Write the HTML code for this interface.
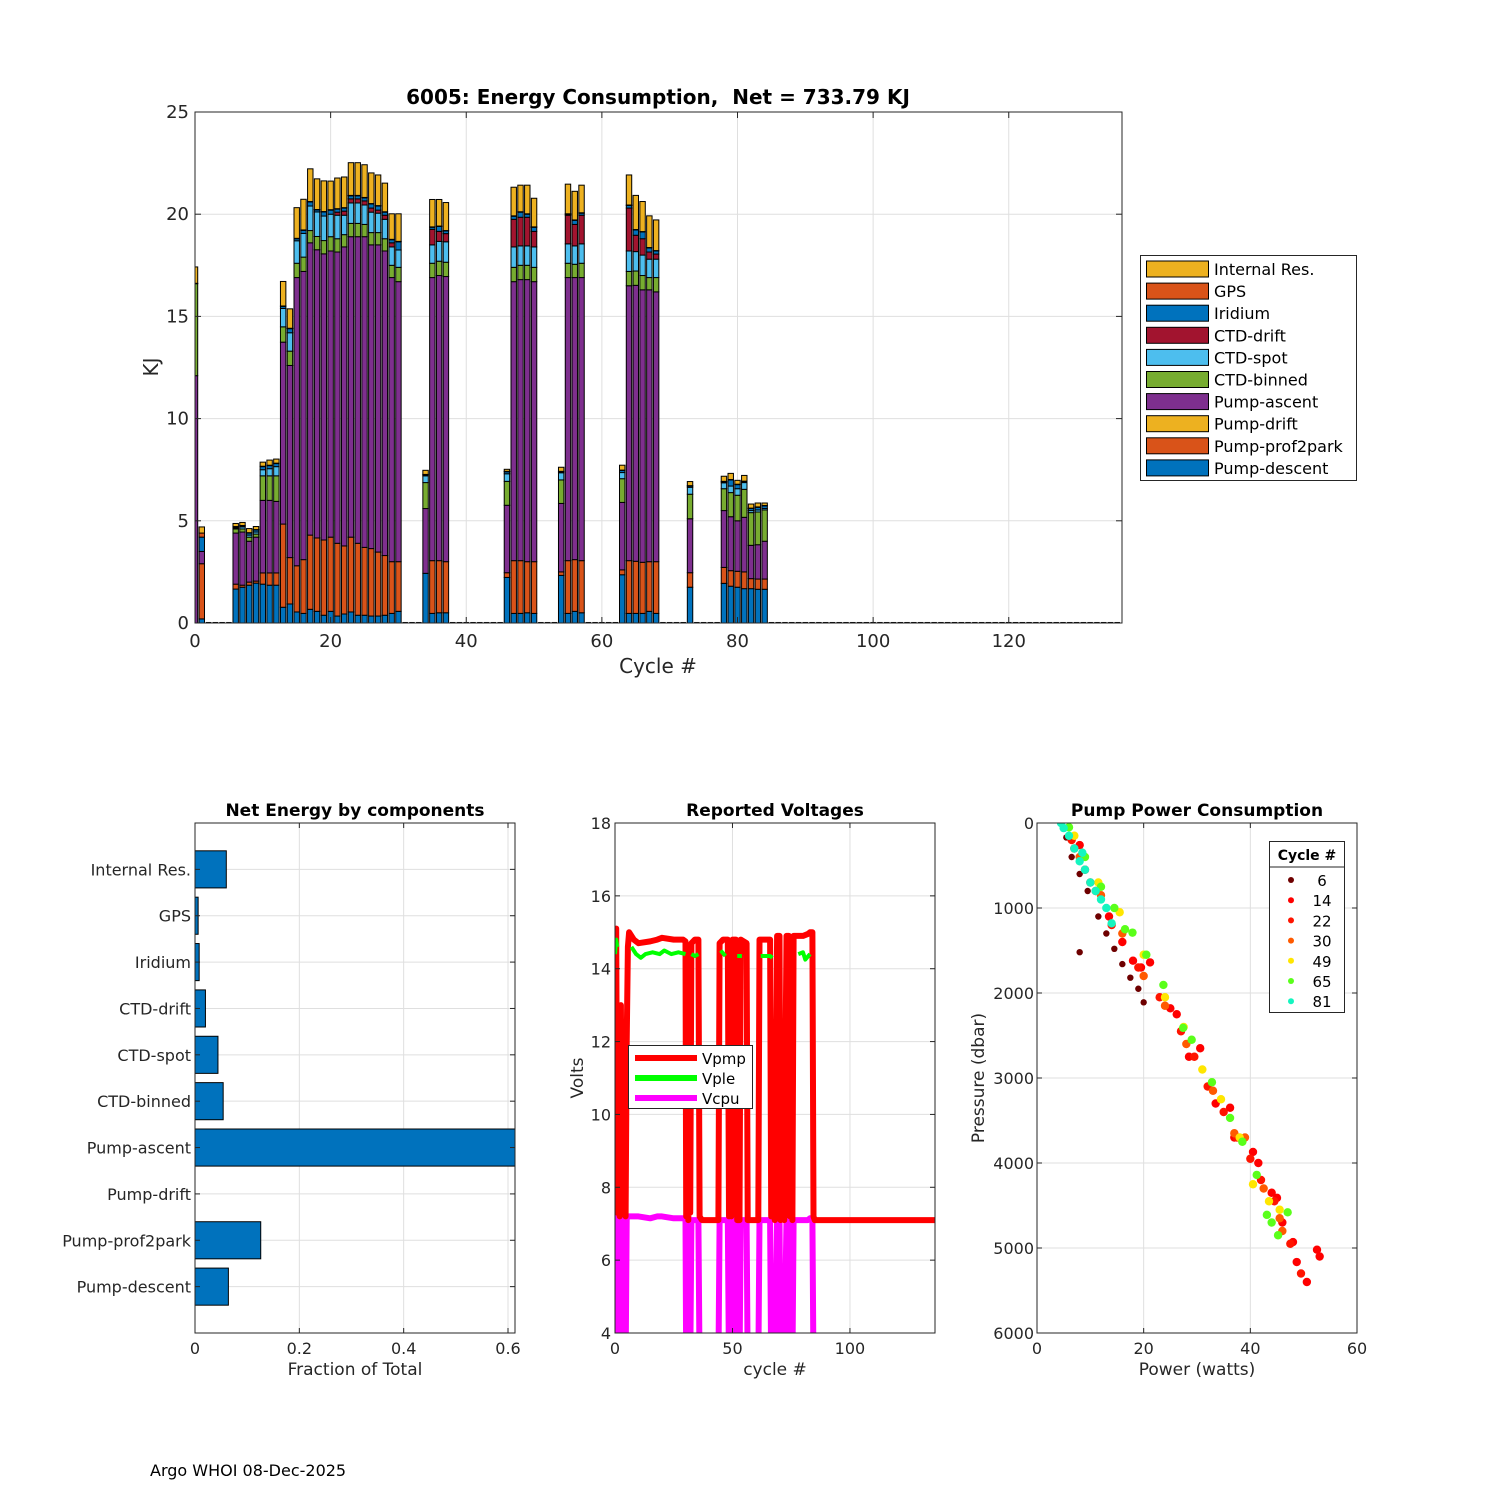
<!DOCTYPE html>
<html><head><meta charset="utf-8"><style>
html,body{margin:0;padding:0;background:#fff}
svg{display:block;font-family:"DejaVu Sans","Liberation Sans",sans-serif}
text{white-space:pre}
</style></head><body>
<svg id="s" width="1500" height="1500" viewBox="0 0 1500 1500" xmlns="http://www.w3.org/2000/svg">
<rect width="1500" height="1500" fill="#fff"/>
<defs>
<clipPath id="cpTop"><rect x="195" y="112" width="927" height="511"/></clipPath>
<clipPath id="cpBar"><rect x="195" y="823" width="320" height="510"/></clipPath>
<clipPath id="cpV"><rect x="615" y="823" width="320" height="510"/></clipPath>
<clipPath id="cpP"><rect x="1037" y="823" width="320" height="510"/></clipPath>
</defs>
<g id="top"></g>
<g id="frac"></g>
<g id="volt"></g>
<g id="pump"></g>
<text x="150" y="1476" font-size="16" fill="#000">Argo WHOI 08-Dec-2025</text>
</svg>
<script>
// ===== Top chart data =====
const cycles=[0,1,6,7,8,9,10,11,12,13,14,15,16,17,18,19,20,21,22,23,24,25,26,27,28,29,30,34,35,36,37,46,47,48,49,50,54,55,56,57,63,64,65,66,67,68,73,78,79,80,81,82,83,84];
const pumpDescent=[0,0.2,1.66,1.75,1.85,1.95,1.9,1.85,1.85,0.77,0.93,0.54,0.47,0.67,0.57,0.38,0.57,0.34,0.44,0.54,0.38,0.38,0.34,0.34,0.38,0.47,0.57,2.43,0.47,0.5,0.5,2.23,0.47,0.47,0.5,0.47,2.33,0.47,0.57,0.5,2.36,0.47,0.47,0.47,0.57,0.47,1.75,1.94,1.8,1.75,1.68,1.68,1.65,1.65];
const pumpProf2park=[0,2.7,0.24,0.1,0.15,0.1,0.55,0.6,0.6,4.07,2.27,2.26,2.63,3.63,3.59,3.68,3.63,3.56,3.33,3.66,3.52,3.32,3.3,3.13,2.92,2.53,2.43,0,2.58,2.55,2.5,0.23,2.58,2.58,2.5,2.53,0.17,2.58,2.53,2.55,0.24,2.58,2.55,2.5,2.43,2.53,0.71,0.78,0.76,0.78,0.82,0.49,0.5,0.5];
const pumpDrift=cycles.map(()=>0);
const pumpAscent=[12.1,0.6,2.5,2.6,2.0,2.15,3.55,3.55,3.5,8.9,9.4,14.1,14.1,14.3,14.1,14.0,14.0,14.25,14.63,14.7,15.0,15.2,14.86,15.03,14.9,13.9,13.7,3.17,13.85,13.95,13.95,3.3,13.65,13.75,13.8,13.7,3.35,13.85,13.8,13.85,3.3,13.45,13.5,13.33,13.3,13.2,2.64,2.78,2.64,2.47,2.67,1.63,1.68,1.85];
const ctdBinned=[4.5,0,0.2,0.15,0.2,0.15,1.2,1.2,1.25,0.75,0.7,0.7,0.7,0.6,0.65,0.65,0.7,0.65,0.6,0.65,0.65,0.6,0.6,0.6,0.6,0.6,0.7,1.27,0.7,0.7,0.7,1.17,0.7,0.7,0.7,0.7,1.15,0.7,0.65,0.7,1.16,0.7,0.7,0.7,0.6,0.7,1.2,1.07,1.18,1.25,1.37,1.6,1.6,1.53];
const ctdSpot=[0,0,0.05,0.1,0.1,0.1,0.3,0.35,0.45,0.9,0.9,1.1,1.16,1.2,1.2,1.2,1.1,1.15,0.95,1.0,1.0,0.95,1.0,0.95,0.95,0.9,0.85,0.33,0.9,0.97,1.0,0.37,1.0,0.95,0.95,1.0,0.35,0.95,0.9,0.95,0.3,1.0,0.95,1.0,0.9,0.9,0.34,0.29,0.32,0.32,0.33,0.1,0.1,0.07];
const ctdDrift=[0,0,0,0,0,0,0,0,0,0,0,0,0,0,0,0,0,0.15,0.2,0.2,0.2,0.2,0.2,0.15,0.2,0.2,0,0,0.76,0.49,0.4,0,1.35,1.4,1.4,0.76,0,1.4,1.05,1.4,0,2.1,0.8,0.8,0.35,0.25,0,0,0,0,0,0,0,0];
const iridium=[0,0.7,0.05,0.05,0.1,0.1,0.15,0.15,0.15,0.1,0.2,0.1,0.15,0.2,0.1,0.2,0.2,0.15,0.15,0.15,0.15,0.15,0.2,0.2,0.15,0.15,0.4,0.05,0.1,0.24,0.13,0.1,0.15,0.25,0.15,0.2,0.05,0.05,0.2,0.1,0.1,0.13,0.26,0.33,0.2,0.15,0.06,0.05,0.3,0.2,0.05,0.1,0.13,0.13];
const gps=cycles.map((c)=>c===1?0.2:0.02);
const internalRes=[0.8,0.3,0.15,0.15,0.2,0.15,0.2,0.25,0.2,1.2,0.95,1.5,1.5,1.6,1.5,1.5,1.4,1.5,1.5,1.6,1.6,1.6,1.5,1.5,1.4,1.25,1.35,0.2,1.34,1.3,1.37,0.1,1.4,1.3,1.4,1.4,0.2,1.45,1.4,1.35,0.24,1.47,1.67,1.47,1.55,1.5,0.2,0.25,0.3,0.19,0.28,0.2,0.19,0.12];
const compNames=["Pump-descent","Pump-prof2park","Pump-drift","Pump-ascent","CTD-binned","CTD-spot","CTD-drift","Iridium","GPS","Internal Res."];
const compColors=["#0072BD","#D95319","#EDB120","#7E2F8E","#77AC30","#4DBEEE","#A2142F","#0072BD","#D95319","#EDB120"];
const topXTicks=[0,20,40,60,80,100,120];
const topYTicks=[0,5,10,15,20,25];
const maxCycle=136;
// ===== Fraction chart data =====
const fracCats=["Pump-descent","Pump-prof2park","Pump-drift","Pump-ascent","CTD-binned","CTD-spot","CTD-drift","Iridium","GPS","Internal Res."];
const fracVals=[0.064,0.126,0,0.62,0.054,0.044,0.02,0.008,0.006,0.06];
const fracXTicks=[0,0.2,0.4,0.6];
// ===== Voltage data =====
const vCycle=[0,0.5,1,1.5,2,2.5,3,4,4.5,5,5.5,6,8,10,15,18,20,25,29,30,30.3,30.8,31.2,31.6,32,32.5,34,35.5,36,37,42,44,44.5,46,48,48.5,49,49.5,50,51.5,52,53,53.5,56,56.5,61,61.5,66,66.5,67.5,68,69,70,70.5,71.5,72,73,74,74.5,75,75.5,76,80,82,83,84,84.5,85,136];
const vpmp=[14.9,15.1,7.3,9,7.2,13,7.3,10.5,7.2,12,14.6,15.0,14.8,14.7,14.75,14.8,14.85,14.8,14.8,14.75,7.2,13,7.1,12,7.3,14.7,14.8,14.8,7.2,7.1,7.1,7.1,14.7,14.8,14.8,7.2,12.5,7.2,14.8,14.8,7.1,7.1,14.8,14.7,7.1,7.1,14.8,14.8,7.2,11,7.1,14.9,14.9,7.1,10.5,7.1,14.9,14.9,7.2,12,7.1,14.9,14.9,14.95,15,15,7.2,7.1,7.1];
const vcpu=[7.2,7.2,3,3,3,7.2,3,3,3,7.2,7.2,7.2,7.2,7.2,7.15,7.2,7.2,7.15,7.15,7.15,3,7.1,3,7.1,3,7.1,7.1,7.1,3,3,3,3,7.1,7.1,7.1,3,7.1,3,7.1,7.1,3,3,7.1,7.1,3,3,7.1,7.1,3,3,3,7.1,7.1,3,3,3,7.1,7.1,3,3,3,7.1,7.1,7.1,7.15,7.15,3,3,3];
const vpleCycle=[0,0.5,1,null,7,9,11,13,16,19,21,24,27,30,null,32.5,34,35.5,null,45,47,null,52,54,null,62,66,67,null,78,80,81,83];
const vple=[14.4,14.8,14.6,null,14.6,14.4,14.3,14.4,14.45,14.4,14.5,14.4,14.45,14.4,null,14.4,14.35,14.4,null,14.5,14.35,null,14.35,14.35,null,14.35,14.35,14.3,null,14.4,14.45,14.25,14.4];
const vXTicks=[0,50,100];
const vYTicks=[4,6,8,10,12,14,16,18];
// ===== Pump power data =====
const pumpCycles=["6","14","22","30","49","65","81"];
const pumpColors=["#6e0000","#ff0000","#ff1400","#ff5a00","#ffe600","#5aff1a","#14f5c0"];
const pwr6=[5.5,6.5,8,9.5,11.5,13,14.5,16,17.5,19,20,8];
const prs6=[170,400,600,800,1100,1300,1480,1660,1820,1950,2110,1520];
const pwr14=[7,8,9,11,13.5,16,18,19.5,21.2,25,26.2,28.5,30.6,33.5,36.2,37,40.5,41.5,44,45,46,48,48.7,50.6,52.5,53];
const prs14=[300,260,550,800,1100,1400,1620,1700,1640,2180,2250,2750,2650,3300,3350,3700,3870,4000,4350,4410,4700,4930,5165,5400,5020,5100];
const pwr22=[6.5,10,14,19,23,27,29.5,32,35,37.5,40,42,44.5,47.5,49.5];
const prs22=[200,700,1200,1700,2050,2450,2750,3100,3400,3700,3950,4200,4450,4950,5300];
const pwr30=[8,12,16,20,24,28,33,37,39,42.5,45.5,46];
const prs30=[400,850,1300,1800,2150,2600,3150,3650,3700,4300,4650,4800];
const pwr49=[7,11.5,15.5,20,24,27.5,31,34.5,38,40.5,43.5,45.5];
const prs49=[150,700,1050,1550,2050,2400,2900,3250,3700,4250,4450,4550];
const pwr65=[6,9,12,14.5,16.5,17.9,20.5,23.7,27.4,29,32.8,36.2,38.5,41.2,43.1,45.2,47,44];
const prs65=[50,400,750,1000,1250,1290,1550,1905,2410,2550,3050,3470,3750,4140,4610,4850,4580,4700];
const pwr81=[4.5,5,6,7,8,9,10,11,12,13,14,8.5];
const prs81=[0,60,150,300,450,550,700,800,900,1000,1180,350];
const pXTicks=[0,20,40,60];
const pYTicks=[0,1000,2000,3000,4000,5000,6000];

const NS="http://www.w3.org/2000/svg";
function mk(parent,tag,attrs,txt){const e=document.createElementNS(NS,tag);for(const k in attrs)e.setAttribute(k,attrs[k]);if(txt!==undefined)e.textContent=txt;parent.appendChild(e);return e;}
const AX="#262626",GRID="#dfdfdf";
function frame(g,x0,y0,x1,y1){
  const r=mk(g,'rect',{x:x0,y:y0,width:x1-x0,height:y1-y0,fill:'none',stroke:AX,'stroke-width':1});
  
  
}

// ===== TOP =====
(function(){
  const g=document.getElementById('top');
  const X0=195,X1=1122,Y0=112,Y1=623,XMAX=136.7,YMAX=25;
  const xs=c=>X0+c*(X1-X0)/XMAX, ys=v=>Y1-v*(Y1-Y0)/YMAX;
  topXTicks.forEach(t=>{const l=mk(g,'line',{x1:xs(t),x2:xs(t),y1:Y0,y2:Y1,stroke:GRID});});
  topYTicks.forEach(t=>{const l=mk(g,'line',{x1:X0,x2:X1,y1:ys(t),y2:ys(t),stroke:GRID});});
  const bars=mk(g,'g',{'clip-path':'url(#cpTop)'});
  
  
  const comps=[pumpDescent,pumpProf2park,pumpDrift,pumpAscent,ctdBinned,ctdSpot,ctdDrift,iridium,gps,internalRes];
  const bw=0.8*(X1-X0)/XMAX;
  for(let c=0;c<=maxCycle;c++){
    const i=cycles.indexOf(c);
    if(i<0){const r=mk(bars,'rect',{x:xs(c)-bw/2,y:ys(0.05),width:bw,height:ys(0)-ys(0.05),fill:'#000'});continue;}
    let base=0;
    comps.forEach((arr,k)=>{const v=arr[i];if(!v)return;
      const r=mk(bars,'rect',{x:xs(c)-bw/2,y:ys(base+v),width:bw,height:ys(base)-ys(base+v),fill:compColors[k],stroke:'#000','stroke-width':1});
      
      
      base+=v;});
  }
  frame(g,X0,Y0,X1,Y1);
  topXTicks.forEach(t=>{mk(g,'line',{x1:xs(t),x2:xs(t),y1:Y1,y2:Y1-6,stroke:AX});mk(g,'line',{x1:xs(t),x2:xs(t),y1:Y0,y2:Y0+6,stroke:AX});
    const tx=mk(g,'text',{x:xs(t),y:Y1+24,'font-size':18,'text-anchor':'middle',fill:AX},t);});
  topYTicks.forEach(t=>{mk(g,'line',{x1:X0,x2:X0+6,y1:ys(t),y2:ys(t),stroke:AX});mk(g,'line',{x1:X1,x2:X1-6,y1:ys(t),y2:ys(t),stroke:AX});
    const tx=mk(g,'text',{x:X0-6,y:ys(t)+6,'font-size':18,'text-anchor':'end',fill:AX},t);});
  let t=mk(g,'text',{x:658,y:104,'font-size':20,'font-weight':'bold','text-anchor':'middle',fill:'#000'},'6005: Energy Consumption,  Net = 733.79 KJ');
  t=mk(g,'text',{x:658,y:673,'font-size':20,'text-anchor':'middle',fill:AX},'Cycle #');
  t=mk(g,'text',{x:158,y:367,'font-size':20,'text-anchor':'middle',fill:AX,transform:'rotate(-90 158 367)'},'KJ');
  const lg=mk(g,'g',{});
  
  
  mk(lg,'rect',{x:1140.5,y:255.5,width:216,height:225,fill:'#fff',stroke:AX});
  for(let k=9;k>=0;k--){const row=9-k;const y=261+row*22.1;
    const it=mk(lg,'g',{});
    
    
    mk(it,'rect',{x:1146.5,y:y,width:62,height:16,fill:compColors[k],stroke:'#000'});
    mk(it,'text',{x:1214,y:y+14,'font-size':16,fill:'#000'},compNames[k]);}
})();

// ===== FRACTION =====
(function(){
  const g=document.getElementById('frac');
  const X0=195,X1=515,Y0=823,Y1=1333,XMAX=0.6134,YMAX=11;
  const xs=v=>X0+v*(X1-X0)/XMAX, ys=i=>Y1-(i+1)*(Y1-Y0)/YMAX;
  fracXTicks.forEach(t=>{mk(g,'line',{x1:xs(t),x2:xs(t),y1:Y0,y2:Y1,stroke:GRID});});
  fracCats.forEach((c,i)=>{mk(g,'line',{x1:X0,x2:X1,y1:ys(i),y2:ys(i),stroke:GRID});});
  const bg=mk(g,'g',{'clip-path':'url(#cpBar)'});
  const bh=0.8*(Y1-Y0)/YMAX;
  fracCats.forEach((c,i)=>{if(!fracVals[i])return;
    const r=mk(bg,'rect',{x:X0,y:ys(i)-bh/2,width:xs(fracVals[i])-X0,height:bh,fill:'#0072BD',stroke:'#000'});
    
    });
  frame(g,X0,Y0,X1,Y1);
  fracXTicks.forEach(t=>{mk(g,'line',{x1:xs(t),x2:xs(t),y1:Y1,y2:Y1-5,stroke:AX});mk(g,'line',{x1:xs(t),x2:xs(t),y1:Y0,y2:Y0+5,stroke:AX});
    const tx=mk(g,'text',{x:xs(t),y:Y1+21,'font-size':16,'text-anchor':'middle',fill:AX},t);});
  fracCats.forEach((c,i)=>{mk(g,'line',{x1:X0,x2:X0+5,y1:ys(i),y2:ys(i),stroke:AX});mk(g,'line',{x1:X1,x2:X1-5,y1:ys(i),y2:ys(i),stroke:AX});
    const tx=mk(g,'text',{x:X0-4,y:ys(i)+6,'font-size':16,'text-anchor':'end',fill:AX},c);});
  let t=mk(g,'text',{x:355,y:816,'font-size':17,'font-weight':'bold','text-anchor':'middle',fill:'#000'},'Net Energy by components');
  t=mk(g,'text',{x:355,y:1375,'font-size':17,'text-anchor':'middle',fill:AX},'Fraction of Total');
})();

// ===== VOLTAGES =====
(function(){
  const g=document.getElementById('volt');
  const X0=615,X1=935,Y0=823,Y1=1333,XMAX=136.2,YMIN=4,YMAX=18;
  const xs=v=>X0+v*(X1-X0)/XMAX, ys=v=>Y1-(v-YMIN)*(Y1-Y0)/(YMAX-YMIN);
  vXTicks.forEach(t=>mk(g,'line',{x1:xs(t),x2:xs(t),y1:Y0,y2:Y1,stroke:GRID}));
  vYTicks.forEach(t=>mk(g,'line',{x1:X0,x2:X1,y1:ys(t),y2:ys(t),stroke:GRID}));
  const cg=mk(g,'g',{'clip-path':'url(#cpV)'});
  function path(xa,ya){let d='',pen=false;xa.forEach((x,i)=>{if(x===null||ya[i]===null){pen=false;return;}d+=(pen?'L':'M')+xs(x).toFixed(1)+','+ys(ya[i]).toFixed(1);pen=true;});return d;}
  let p=mk(cg,'path',{d:path(vCycle,vcpu),fill:'none',stroke:'#ff00ff','stroke-width':6,'stroke-linejoin':'round'});
  p=mk(cg,'path',{d:path(vCycle,vpmp),fill:'none',stroke:'#ff0000','stroke-width':6,'stroke-linejoin':'round'});
  p=mk(cg,'path',{d:path(vpleCycle,vple),fill:'none',stroke:'#00ff00','stroke-width':4,'stroke-linejoin':'round'});
  frame(g,X0,Y0,X1,Y1);
  vXTicks.forEach(t=>{mk(g,'line',{x1:xs(t),x2:xs(t),y1:Y1,y2:Y1-5,stroke:AX});mk(g,'line',{x1:xs(t),x2:xs(t),y1:Y0,y2:Y0+5,stroke:AX});
    const tx=mk(g,'text',{x:xs(t),y:Y1+21,'font-size':16,'text-anchor':'middle',fill:AX},t);});
  vYTicks.forEach(t=>{mk(g,'line',{x1:X0,x2:X0+5,y1:ys(t),y2:ys(t),stroke:AX});mk(g,'line',{x1:X1,x2:X1-5,y1:ys(t),y2:ys(t),stroke:AX});
    const tx=mk(g,'text',{x:X0-4,y:ys(t)+6,'font-size':16,'text-anchor':'end',fill:AX},t);});
  let t=mk(g,'text',{x:775,y:816,'font-size':17,'font-weight':'bold','text-anchor':'middle',fill:'#000'},'Reported Voltages');
  t=mk(g,'text',{x:775,y:1375,'font-size':17,'text-anchor':'middle',fill:AX},'cycle #');
  t=mk(g,'text',{x:583,y:1078,'font-size':17,'text-anchor':'middle',fill:AX,transform:'rotate(-90 583 1078)'},'Volts');
  const lg=mk(g,'g',{});
  
  
  mk(lg,'rect',{x:628.5,y:1045.5,width:124,height:63,fill:'#fff',stroke:AX});
  [['Vpmp','#ff0000'],['Vple','#00ff00'],['Vcpu','#ff00ff']].forEach((e,i)=>{const y=1058+i*20;
    const it=mk(lg,'g',{});
    
    
    mk(it,'line',{x1:635,x2:697,y1:y,y2:y,stroke:e[1],'stroke-width':6});
    mk(it,'text',{x:702,y:y+6,'font-size':15,fill:'#000'},e[0]);});
})();

// ===== PUMP POWER =====
(function(){
  const g=document.getElementById('pump');
  const X0=1037,X1=1357,Y0=823,Y1=1333,XMAX=60,YMAX=6000;
  const xs=v=>X0+v*(X1-X0)/XMAX, ys=v=>Y0+v*(Y1-Y0)/YMAX;
  pXTicks.forEach(t=>mk(g,'line',{x1:xs(t),x2:xs(t),y1:Y0,y2:Y1,stroke:GRID}));
  pYTicks.forEach(t=>mk(g,'line',{x1:X0,x2:X1,y1:ys(t),y2:ys(t),stroke:GRID}));
  const cg=mk(g,'g',{'clip-path':'url(#cpP)'});
  const series=[[pwr6,prs6],[pwr14,prs14],[pwr22,prs22],[pwr30,prs30],[pwr49,prs49],[pwr65,prs65],[pwr81,prs81]];
  series.forEach((s,k)=>{
    const sg=mk(cg,'g',{fill:pumpColors[k]});
    
    
    s[0].forEach((x,i)=>{
      const c=mk(sg,'circle',{cx:xs(x),cy:ys(s[1][i]),r:k===0?3.2:4.2});
      
      
    });
  });
  frame(g,X0,Y0,X1,Y1);
  pXTicks.forEach(t=>{mk(g,'line',{x1:xs(t),x2:xs(t),y1:Y1,y2:Y1-5,stroke:AX});mk(g,'line',{x1:xs(t),x2:xs(t),y1:Y0,y2:Y0+5,stroke:AX});
    const tx=mk(g,'text',{x:xs(t),y:Y1+21,'font-size':16,'text-anchor':'middle',fill:AX},t);});
  pYTicks.forEach(t=>{mk(g,'line',{x1:X0,x2:X0+5,y1:ys(t),y2:ys(t),stroke:AX});mk(g,'line',{x1:X1,x2:X1-5,y1:ys(t),y2:ys(t),stroke:AX});
    const tx=mk(g,'text',{x:X0-3,y:ys(t)+6,'font-size':16,'text-anchor':'end',fill:AX},t);});
  let t=mk(g,'text',{x:1197,y:816,'font-size':17,'font-weight':'bold','text-anchor':'middle',fill:'#000'},'Pump Power Consumption');
  t=mk(g,'text',{x:1197,y:1375,'font-size':17,'text-anchor':'middle',fill:AX},'Power (watts)');
  t=mk(g,'text',{x:984,y:1078,'font-size':17,'text-anchor':'middle',fill:AX,transform:'rotate(-90 984 1078)'},'Pressure (dbar)');
  const lg=mk(g,'g',{});
  
  
  mk(lg,'rect',{x:1269.5,y:841.5,width:75,height:171,fill:'#fff',stroke:AX});
  mk(lg,'line',{x1:1269.5,x2:1344.5,y1:867,y2:867,stroke:AX});
  mk(lg,'text',{x:1307,y:860,'font-size':14,'font-weight':'bold','text-anchor':'middle',fill:'#000'},'Cycle #');
  pumpCycles.forEach((c,i)=>{const y=880+i*20.2;
    const it=mk(lg,'g',{});
    
    
    mk(it,'circle',{cx:1291,cy:y,r:3,fill:pumpColors[i]});
    mk(it,'text',{x:1322,y:y+6,'font-size':15,'text-anchor':'middle',fill:'#000'},c);});
})();
</script>
</body></html>
